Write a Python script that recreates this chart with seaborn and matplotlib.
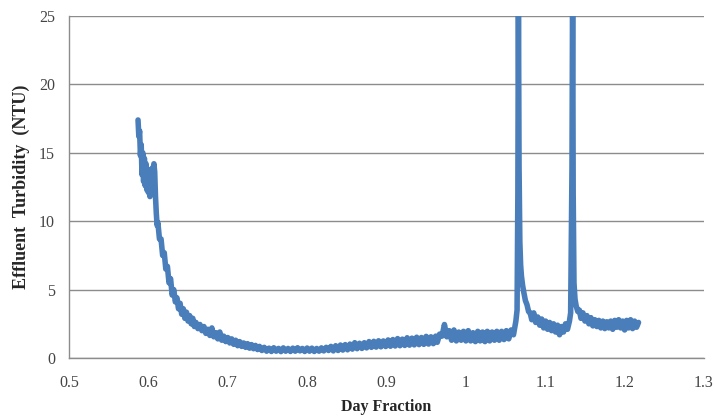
import numpy as np
import pandas as pd
import matplotlib
matplotlib.use("Agg")
import matplotlib.pyplot as plt
import seaborn as sns

# 데이터
# 초기 감소 구간
start_x = [0.587, 0.588, 0.589, 0.590, 0.591, 0.592, 0.593, 0.594, 0.595, 0.596,
           0.597, 0.598, 0.599, 0.600, 0.601, 0.602, 0.603, 0.604, 0.605, 0.606,
           0.607, 0.608, 0.609, 0.610, 0.611]
start_y = [17.4, 16.2, 16.6, 14.8, 15.6, 13.4, 15.0, 12.9, 14.6, 12.6,
           14.2, 12.3, 13.8, 12.1, 13.5, 11.8, 13.4, 12.0, 13.9, 12.4,
           14.2, 13.6, 11.8, 10.6, 9.7]

descent_x = [0.612, 0.614, 0.616, 0.618, 0.620, 0.622, 0.624, 0.626, 0.628, 0.630,
             0.632, 0.634, 0.636, 0.638, 0.640, 0.642, 0.644, 0.646, 0.648, 0.650,
             0.652, 0.654, 0.656, 0.658]
descent_y = [9.9, 8.7, 8.7, 7.5, 7.7, 6.5, 6.7, 5.5, 5.8, 4.6,
             5.0, 4.1, 4.4, 3.6, 4.0, 3.2, 3.6, 2.9, 3.35, 2.7,
             3.1, 2.5, 2.9, 2.3]

# 꼬리 구간
tail_x = [0.660, 0.6625, 0.665, 0.6675, 0.670, 0.6725, 0.675, 0.6775, 0.680, 0.6825,
          0.685, 0.6875, 0.690, 0.6925, 0.695, 0.6975, 0.700, 0.7025, 0.705, 0.7075,
          0.710, 0.7125, 0.715, 0.7175, 0.720, 0.7225, 0.725, 0.7275, 0.730, 0.7325,
          0.735, 0.7375, 0.740]
tail_y = [2.6, 2.15, 2.45, 2.0, 2.3, 1.8, 2.1, 1.65, 2.2, 1.55,
          1.85, 1.4, 1.9, 1.3, 1.6, 1.2, 1.5, 1.1, 1.4, 1.0,
          1.3, 0.9, 1.2, 0.85, 1.1, 0.78, 1.05, 0.72, 0.98, 0.68,
          0.92, 0.62, 0.85]

# 바닥 구간
base_x = [0.743, 0.746, 0.749, 0.752, 0.755, 0.758, 0.761, 0.764, 0.767, 0.770,
          0.773, 0.776, 0.779, 0.782, 0.785, 0.788, 0.791, 0.794, 0.797, 0.800,
          0.803, 0.806, 0.809, 0.812, 0.815, 0.818, 0.821, 0.824, 0.827, 0.830,
          0.833, 0.836, 0.839, 0.842, 0.845, 0.848, 0.851, 0.854, 0.857, 0.860,
          0.863, 0.866, 0.869, 0.872, 0.875, 0.878, 0.881, 0.884, 0.887, 0.890,
          0.893, 0.896, 0.899, 0.902, 0.905, 0.908, 0.911, 0.914, 0.917, 0.920,
          0.923, 0.926, 0.929, 0.932, 0.935, 0.938, 0.941, 0.944, 0.947, 0.950,
          0.953, 0.956, 0.959, 0.962]
base_y = [0.55, 0.78, 0.5, 0.72, 0.48, 0.75, 0.5, 0.7, 0.47, 0.74,
          0.5, 0.7, 0.48, 0.72, 0.5, 0.75, 0.52, 0.7, 0.48, 0.73,
          0.5, 0.72, 0.48, 0.7, 0.5, 0.74, 0.52, 0.78, 0.55, 0.85,
          0.52, 0.9, 0.55, 0.95, 0.58, 0.98, 0.6, 1.02, 0.65, 1.12,
          0.68, 1.08, 0.7, 1.12, 0.74, 1.2, 0.78, 1.22, 0.8, 1.26,
          0.82, 1.25, 0.84, 1.32, 0.86, 1.35, 0.88, 1.42, 0.9, 1.38,
          0.92, 1.48, 0.94, 1.45, 0.96, 1.52, 0.98, 1.5, 1.0, 1.58,
          1.02, 1.55, 1.05, 1.6]

# 첫 번째 피크 전
plateau_x = [0.964, 0.967, 0.970, 0.973, 0.976, 0.979, 0.982, 0.985, 0.988, 0.991,
             0.994, 0.997, 1.000, 1.003, 1.006, 1.009, 1.012, 1.015, 1.018, 1.021,
             1.024, 1.027, 1.030, 1.033, 1.036, 1.039, 1.042, 1.045, 1.048, 1.051,
             1.054, 1.057, 1.060, 1.063]
plateau_y = [1.15, 1.75, 1.6, 2.45, 1.55, 2.0, 1.3, 2.05, 1.25, 1.9,
             1.3, 1.95, 1.25, 2.0, 1.25, 1.85, 1.2, 1.95, 1.25, 1.9,
             1.2, 1.95, 1.25, 1.9, 1.3, 1.95, 1.3, 1.95, 1.35, 2.0,
             1.4, 2.05, 1.7, 2.7]

# 첫 번째 피크
spike1_x = [1.0645, 1.0655, 1.0662, 1.0670, 1.0680, 1.0690, 1.0700, 1.0715, 1.0730,
            1.0750, 1.0770, 1.0790, 1.0810]
spike1_y = [3.5, 12.0, 27.0, 14.0, 8.5, 6.8, 6.0, 5.3, 4.8,
            4.2, 3.9, 3.4, 3.3]

# 피크 사이
between_x = [1.0830, 1.0855, 1.0880, 1.0905, 1.0930, 1.0955, 1.0980, 1.1005, 1.1030,
             1.1055, 1.1080, 1.1105, 1.1130, 1.1155, 1.1180, 1.1205, 1.1230, 1.1255,
             1.1280, 1.1305, 1.1320]
between_y = [2.8, 3.3, 2.6, 3.0, 2.4, 2.85, 2.2, 2.7, 2.1,
             2.6, 2.0, 2.5, 1.9, 2.4, 1.7, 2.3, 1.9, 2.5,
             2.1, 2.7, 3.3]

# 두 번째 피크
spike2_x = [1.1337, 1.1345, 1.1352, 1.1362, 1.1375, 1.139, 1.141, 1.143, 1.145,
            1.1475, 1.150]
spike2_y = [14.0, 28.0, 12.0, 5.5, 4.3, 3.8, 3.4, 3.5, 2.9, 3.3, 2.7]

# 마지막 구간
end_x = [1.1525, 1.155, 1.1575, 1.160, 1.1625, 1.165, 1.1675, 1.170, 1.1725, 1.175,
         1.1775, 1.180, 1.1825, 1.185, 1.1875, 1.190, 1.1925, 1.195, 1.1975, 1.200,
         1.2025, 1.205, 1.2075, 1.210, 1.2125, 1.215, 1.2175]
end_y = [3.1, 2.5, 2.95, 2.35, 2.8, 2.3, 2.75, 2.2, 2.7, 2.15,
         2.65, 2.2, 2.7, 2.1, 2.75, 2.25, 2.8, 2.2, 2.7, 2.05,
         2.75, 2.2, 2.8, 2.15, 2.7, 2.25, 2.6]

x_ticks = [0.5, 0.6, 0.7, 0.8, 0.9, 1.0, 1.1, 1.2, 1.3]
x_tick_labels = ['0.5', '0.6', '0.7', '0.8', '0.9', '1', '1.1', '1.2', '1.3']
y_ticks = [0, 5, 10, 15, 20, 25]

df = pd.DataFrame({
    'day': start_x + descent_x + tail_x + base_x + plateau_x + spike1_x
           + between_x + spike2_x + end_x,
    'ntu': start_y + descent_y + tail_y + base_y + plateau_y + spike1_y
           + between_y + spike2_y + end_y,
})

sns.set_style("white")
plt.rcParams['font.family'] = ['Liberation Serif', 'DejaVu Serif']

fig = plt.figure(figsize=(7.14, 4.18), dpi=100)
ax = fig.add_axes([0.0966, 0.1435, 0.8894, 0.8182])

sns.lineplot(data=df, x='day', y='ntu', estimator=None, sort=False,
             color='#4a7ebb', linewidth=4.0, ax=ax)
for l in ax.lines:
    l.set_solid_joinstyle('round')
    l.set_solid_capstyle('round')

ax.set_xlim(0.5, 1.3)
ax.set_ylim(0, 25)
ax.set_xticks(x_ticks)
ax.set_xticklabels(x_tick_labels)
ax.set_yticks(y_ticks)
ax.yaxis.grid(True, color='#8c8c8c', linewidth=1.0)
ax.set_axisbelow(True)

for side in ['top', 'right']:
    ax.spines[side].set_visible(False)
for side in ['left', 'bottom']:
    ax.spines[side].set_color('#8c8c8c')
    ax.spines[side].set_linewidth(1.0)

ax.tick_params(axis='both', direction='out', length=4, width=1.0, color='#8c8c8c',
               labelsize=11.5, labelcolor='#444444')
ax.tick_params(axis='x', pad=8)
ax.tick_params(axis='y', pad=6)

ax.set_xlabel('Day Fraction', fontsize=11.5, fontweight='bold', labelpad=6)
ax.set_ylabel('Effluent  Turbidity  (NTU)', fontsize=13, fontweight='bold')
ax.yaxis.set_label_coords(-0.062, 0.5)

plt.savefig("out.png", dpi=100)
